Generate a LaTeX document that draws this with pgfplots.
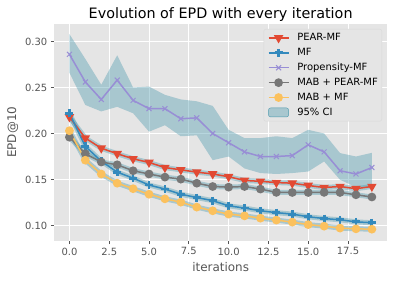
\documentclass[border=0pt]{standalone}
\usepackage{pgfplots}
\pgfplotsset{compat=1.18}
\usepackage{pgfplotstable}
\usepackage{fontspec}
\setmainfont{DejaVu Sans}
\definecolor{cred}{HTML}{E24A33}
\definecolor{cblue}{HTML}{348ABD}
\definecolor{cpurple}{HTML}{988ED5}
\definecolor{cgray}{HTML}{777777}
\definecolor{cyellow}{HTML}{FBC15E}
\definecolor{cband}{HTML}{4D9AAE}
\definecolor{cbg}{HTML}{E5E5E5}
\definecolor{ctext}{HTML}{555555}
\pgfplotstableread{
i pear mf prop mabpear mabmf
0 0.218 0.222 0.286 0.196 0.203
1 0.195 0.186 0.256 0.178 0.171
2 0.184 0.170 0.237 0.169 0.156
3 0.178 0.158 0.258 0.166 0.146
4 0.1725 0.1515 0.236 0.1595 0.140
5 0.1685 0.144 0.227 0.156 0.134
6 0.163 0.1396 0.227 0.1526 0.129
7 0.1605 0.134 0.216 0.1504 0.1254
8 0.158 0.1304 0.217 0.146 0.120
9 0.156 0.127 0.200 0.1424 0.116
10 0.153 0.1214 0.190 0.1417 0.1124
11 0.149 0.119 0.180 0.1424 0.1105
12 0.148 0.116 0.175 0.1396 0.108
13 0.1467 0.114 0.175 0.136 0.1059
14 0.146 0.1124 0.176 0.1359 0.1037
15 0.1435 0.1095 0.1877 0.1359 0.101
16 0.1413 0.1076 0.180 0.136 0.0993
17 0.1424 0.1062 0.1595 0.1359 0.0972
18 0.140 0.104 0.156 0.1334 0.0964
19 0.1424 0.103 0.163 0.131 0.096
}\data
% Propensity-MF 95% CI: upper edge forward, lower edge backward
\pgfplotstableread{
x y
0 0.308
1 0.281
2 0.253
3 0.285
4 0.250
5 0.251
6 0.242
7 0.237
8 0.235
9 0.230
10 0.204
11 0.195
12 0.195
13 0.197
14 0.195
15 0.204
16 0.200
17 0.1787
18 0.175
19 0.179
19 0.1417
18 0.1417
17 0.1497
16 0.1696
15 0.1587
14 0.157
13 0.156
12 0.157
11 0.162
10 0.175
9 0.171
8 0.198
7 0.197
6 0.209
5 0.202
4 0.222
3 0.229
2 0.224
1 0.231
0 0.266
}\band
\begin{document}
\begin{tikzpicture}
\useasboundingbox (0,0) rectangle (398bp,282bp);
\begin{axis}[
  at={(54.3bp,41.3bp)}, anchor=south west,
  width=332.7bp, height=216.7bp, scale only axis,
  xmin=-0.95, xmax=19.95, ymin=0.0835, ymax=0.319,
  axis background/.style={fill=cbg},
  axis line style={draw=none},
  grid=major, grid style={white, line width=0.8bp},
  xtick={0,2.5,...,17.5}, ytick={0.10,0.15,...,0.30},
  xtick pos=bottom, ytick pos=left,
  tick align=outside, major tick length=3.5bp,
  tick style={ctext, line width=0.8bp},
  x tick label style={/pgf/number format/.cd, fixed, fixed zerofill, precision=1},
  y tick label style={/pgf/number format/.cd, fixed, fixed zerofill, precision=2},
  /pgf/number format/assume math mode=true,
  tick label style={font=\fontsize{10}{12}\selectfont, text=ctext},
  xlabel={iterations}, ylabel={EPD@10},
  label style={font=\fontsize{12}{14}\selectfont, text=ctext},
  legend style={at={(1,1)}, xshift=-5bp, yshift=-5bp, anchor=north east, fill=cbg, draw=black!15, rounded corners=2bp,
    font=\fontsize{10}{12}\selectfont,
    nodes={inner sep=0pt, text height=7.6bp, text depth=2.4bp},
    row sep=4.9bp, inner xsep=4bp, inner ysep=3.75bp,
    /tikz/every odd column/.append style={column sep=0bp},
    /tikz/every even column/.append style={column sep=0bp}},
  legend cell align=left,
  legend image code/.code={\draw[mark repeat=2,mark phase=2] plot coordinates {(0bp,0bp) (10bp,0bp) (20bp,0bp)};},
]
\addplot[draw=none, fill=cband, fill opacity=0.4, forget plot] table[x=x, y=y] {\band} -- cycle;
% thin CI bands
\addplot[cband, opacity=0.4, line width=5bp, forget plot] table[x=i, y=pear] {\data};
\addplot[cband, opacity=0.4, line width=5bp, forget plot] table[x=i, y=mf] {\data};
\addplot[cband, opacity=0.4, line width=5bp, forget plot] table[x=i, y=mabpear] {\data};
\addplot[cband, opacity=0.4, line width=5bp, forget plot] table[x=i, y=mabmf] {\data};
% series
\addplot[cred, line width=1.5bp, mark=triangle*, mark size=4bp, mark options={rotate=180}] table[x=i, y=pear] {\data};
\addlegendentry{\hspace*{8bp}PEAR-MF}
\addplot[cblue, line width=1.5bp, mark=+, mark size=4bp, mark options={line width=2.8bp}] table[x=i, y=mf] {\data};
\addlegendentry{\hspace*{8bp}MF}
\addplot[cpurple, line width=1.5bp, mark=x, mark size=3.5bp, mark options={line width=1bp}] table[x=i, y=prop] {\data};
\addlegendentry{\hspace*{8bp}Propensity-MF}
\addplot[cgray, line width=1.5bp, mark=*, mark size=3.6bp] table[x=i, y=mabpear] {\data};
\addlegendentry{\hspace*{8bp}MAB + PEAR-MF}
\addplot[cyellow, line width=1.5bp, mark=*, mark size=3.6bp] table[x=i, y=mabmf] {\data};
\addlegendentry{\hspace*{8bp}MAB + MF}
\addlegendimage{legend image code/.code={\fill[cband, fill opacity=0.4] (0bp,-4.5bp) rectangle (20bp,4.5bp);}}
\addlegendentry{\hspace*{8bp}95\% CI}
\end{axis}
\node[anchor=base, font=\fontsize{14.4}{17}\selectfont, text=black, inner sep=0pt] at (220.65bp,263.7bp) {Evolution of EPD with every iteration};
\end{tikzpicture}
\end{document}
